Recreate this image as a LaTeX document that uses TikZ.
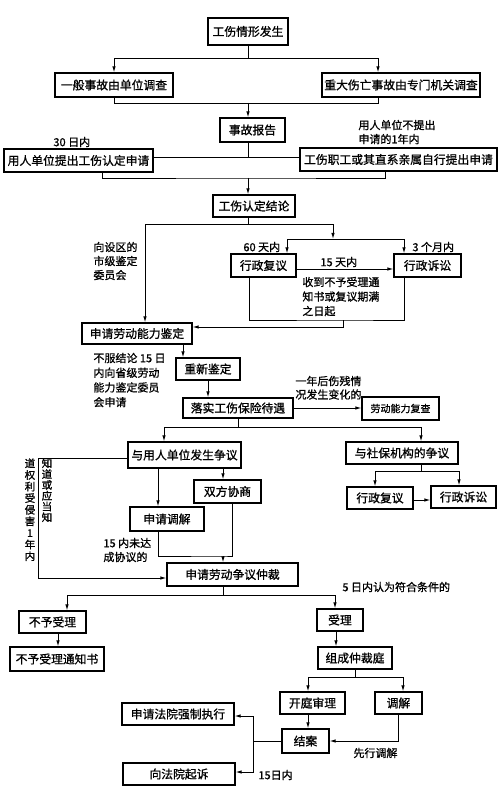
\documentclass[tikz,border=0pt]{standalone}
\usepackage{fontspec}
\setmainfont{Noto Sans CJK SC}[FakeBold=1]
\usetikzlibrary{arrows.meta}
\tikzset{
  box/.style={draw, line width=1.1pt, fill=white, inner xsep=2pt, inner ysep=0pt,
    font=\fontsize{11.8}{13}\selectfont},
  arr/.style={-{Latex[length=6pt,width=3.4pt]}},
  note/.style={inner sep=0pt, align=left, font=\fontsize{11}{14.5}\selectfont},
  vnote/.style={inner sep=0pt, align=center, anchor=north},
}
\begin{document}
\begin{tikzpicture}[x=1pt, y=-1pt, line width=0.9pt]
      \useasboundingbox (0,0) rectangle (500,791);

      % Accident and investigation
      \node[box, minimum width=80, minimum height=27] (occur) at (248,31.5) {工伤情形发生};
      \node[box, minimum width=118, minimum height=24] (general) at (114,85) {一般事故由单位调查};
      \node[box, minimum width=158, minimum height=24] (major) at (401,85) {重大伤亡事故由专门机关调查};
      \node[box, minimum width=65, minimum height=24] (report) at (252.5,130) {事故报告};

      \coordinate (s1) at (248,58);
      \draw (occur.south) -- (s1);
      \draw[arr] (s1) -| (general.north);
      \draw[arr] (s1) -| ([xshift=-23pt]major.north);
      \coordinate (s2) at (248,103);
      \draw (general.south) |- (s2);
      \draw ([xshift=-23pt]major.south) |- (s2);
      \draw[arr] (s2) -- (s2 |- report.north);

      % Application for recognition
      \node[box, minimum width=149, minimum height=23] (unitapply) at (78.5,160.5) {用人单位提出工伤认定申请};
      \node[box, minimum width=197, minimum height=23] (selfapply) at (398.5,159.5) {工伤职工或其直系亲属自行提出申请};
      \node[note, anchor=west] (L30) at (53,142) {30 日内};
      \node[note, anchor=north west, font=\fontsize{11}{14}\selectfont] (Lyear) at (358,119.5) {用人单位不提出\\申请的1年内};

      \coordinate (s3) at (248,157);
      \draw (s2 |- report.south) -- (s3);
      \draw (unitapply.east |- s3) -- (selfapply.west |- s3);

      \node[box, minimum width=82, minimum height=22] (conclusion) at (254,206) {工伤认定结论};
      \coordinate (s4) at (248,178);
      \draw ([xshift=23.5pt]unitapply.south) |- (s4) -| ([xshift=-13.5pt]selfapply.south);
      \draw[arr] (s4) -- (s4 |- conclusion.north);

      % Review and suit on the conclusion
      \node[box, minimum width=65, minimum height=23] (review1) at (263.5,265.5) {行政复议};
      \node[box, minimum width=67, minimum height=23] (suit1) at (427.5,265.5) {行政诉讼};
      \node[note, anchor=west] (L60) at (243,247) {60 天内};
      \node[note, anchor=west] (L3m) at (412,247) {3 个月内};
      \node[note, anchor=west] (L15d) at (320,262) {15 天内};
      \node[note, anchor=north west] (Lrecv) at (302,276.5) {收到不予受理通\\知书或复议期满\\之日起};
      \node[note, anchor=north west, font=\fontsize{11}{14}\selectfont] (Lcity) at (93,241.5) {向设区的\\市级鉴定\\委员会};

      \coordinate (s5) at (248,224);
      \draw (s5 |- conclusion.south) -- (s5);
      \coordinate (s6) at (333,239);
      \draw[arr] (s5) -| (s6);
      \draw[arr] (s6) -| ([xshift=23.5pt]review1.north);
      \draw[arr] (s6) -| ([xshift=-23.5pt]suit1.north);
      \draw[arr] ([yshift=-3.5pt]review1.east) -- ([yshift=-3.5pt]suit1.west);

      % Work ability appraisal
      \node[box, minimum width=110, minimum height=21] (assess) at (137,333.5) {申请劳动能力鉴定};
      \node[box, minimum width=64, minimum height=22] (reassess) at (208,369) {重新鉴定};
      \node[note, anchor=north west, font=\fontsize{11}{14.7}\selectfont] (Lprov) at (93,352.5) {不服结论 15 日\\内向省级劳动\\能力鉴定委员\\会申请};

      \draw[arr] (s5) -| ([xshift=8pt]assess.north);
      \coordinate (s7) at (343,320);
      \draw ([xshift=-14.5pt]review1.south) |- (s7) -| ([xshift=-23.5pt]suit1.south);
      \draw[arr] (s7) |- ([yshift=6.5pt]assess.east);
      \draw[arr] ([xshift=46pt]assess.south) -- ([xshift=46pt]assess.south |- reassess.north);

      % Benefits
      \node[box, minimum width=110, minimum height=20] (benefit) at (238,408) {落实工伤保险待遇};
      \node[box, minimum width=77, minimum height=23, font=\fontsize{10}{12}\selectfont] (recheck) at (400.5,408.5) {劳动能力复查};
      \node[note, anchor=north west, font=\fontsize{11}{13.5}\selectfont] (Lchange) at (295,375.5) {一年后伤残情\\况发生变化的};

      \draw[arr] (reassess.south) -- (reassess.south |- benefit.north);
      \draw[arr] (benefit.east) -- (benefit.east -| recheck.west);

      % Disputes
      \node[box, minimum width=113, minimum height=26] (empdispute) at (184.5,455) {与用人单位发生争议};
      \node[box, minimum width=112, minimum height=22] (sidispute) at (402,453) {与社保机构的争议};
      \node[box, minimum width=66, minimum height=22] (review2) at (380,498) {行政复议};
      \node[box, minimum width=65, minimum height=22] (suit2) at (463.5,497) {行政诉讼};
      \node[box, minimum width=67, minimum height=23] (negotiate) at (227.5,491.5) {双方协商};
      \node[box, minimum width=74, minimum height=24] (mediate) at (167,519) {申请调解};

      \coordinate (s8) at (238,427);
      \draw (benefit.south) -- (s8);
      \draw[arr] (s8) -| ([xshift=-20.5pt]empdispute.north);
      \draw[arr] (s8) -| ([xshift=19pt]sidispute.north);
      \coordinate (s9) at (421,471);
      \draw ([xshift=19pt]sidispute.south) -- (s9);
      \draw[arr] (s9) -| ([xshift=-5pt]review2.north);
      \draw[arr] (s9) -| ([xshift=-4.5pt]suit2.north);
      \draw[arr] ([yshift=-2pt]review2.east) -- ([yshift=-2pt]review2.east -| suit2.west);
      \draw[arr] ([xshift=-26.5pt]empdispute.south) -- ([xshift=-26.5pt]empdispute.south |- mediate.north);
      \draw[arr] ([xshift=38.5pt]empdispute.south) -- ([xshift=38.5pt]empdispute.south |- negotiate.north);

      % Arbitration
      \node[box, minimum width=131, minimum height=23] (arbitrate) at (232.5,574.5) {申请劳动争议仲裁};
      \node[note, anchor=north west, font=\fontsize{11}{14}\selectfont] (L15n) at (103,537.5) {15 内未达\\成协议的};
      \node[vnote, font=\fontsize{10.5}{11.6}\selectfont] (Lvleft) at (30,458) {道\\权\\利\\受\\侵\\害\\1\\年\\内};
      \node[vnote, font=\fontsize{10.5}{10.8}\selectfont] (Lvright) at (47,458) {知\\道\\或\\应\\当\\知};

      \coordinate (s10) at (223,556);
      \draw ([xshift=-9pt]mediate.south) |- (s10) -| ([xshift=4.5pt]negotiate.south);
      \draw[arr] (s10) -- (s10 |- arbitrate.north);
      \coordinate (s11) at (38,458);
      \draw[arr] ([yshift=-3pt]empdispute.west) -- (s11) |- ([yshift=-3.5pt]arbitrate.west);

      % Acceptance
      \node[box, minimum width=67, minimum height=22] (reject) at (52.5,622) {不予受理};
      \node[box, minimum width=94, minimum height=24] (notice) at (57,659) {不予受理通知书};
      \node[box, minimum width=46, minimum height=22] (accept) at (340,620) {受理};
      \node[box, minimum width=74, minimum height=22] (tribunal) at (355,658) {组成仲裁庭};
      \node[note, anchor=west] (L5d) at (342,587) {5 日内认为符合条件的};

      \coordinate (s12) at (223,595);
      \draw ([xshift=-9.5pt]arbitrate.south) -- (s12);
      \draw[arr] (s12) -| ([xshift=14.5pt]reject.north);
      \draw[arr] (s12) -| ([xshift=-5pt]accept.north);
      \draw[arr] ([xshift=5.5pt]reject.south) -- ([xshift=5.5pt]reject.south |- notice.north);
      \draw[arr] ([xshift=-4pt]accept.south) -- ([xshift=-4pt]accept.south |- tribunal.north);

      % Hearing and closing
      \node[box, minimum width=65, minimum height=22] (hearing) at (312.5,703) {开庭审理};
      \node[box, minimum width=47, minimum height=22] (conciliate) at (398.5,703) {调解};
      \node[box, minimum width=47, minimum height=24] (close) at (305.5,741) {结案};
      \node[box, minimum width=112, minimum height=22] (enforce) at (178,714) {申请法院强制执行};
      \node[box, minimum width=112, minimum height=22] (sue) at (179,774) {向法院起诉};
      \node[note, anchor=west] (Lfirst) at (353,753) {先行调解};
      \node[note, anchor=west] (L15in) at (258,775) {15日内};

      \coordinate (s13) at (355,677);
      \draw (tribunal.south) -- (s13);
      \draw[arr] (s13) -| ([xshift=-4.5pt]hearing.north);
      \draw[arr] (s13) -| ([xshift=4.5pt]conciliate.north);
      \draw[arr] ([xshift=-4.5pt]hearing.south) -- ([xshift=-4.5pt]hearing.south |- close.north);
      \draw[arr] (conciliate.south) |- (close.east);
      \coordinate (s14) at (253,741);
      \draw (close.west) -- (s14);
      \draw[arr] (s14) |- ([yshift=-2pt]enforce.east);
      \draw[arr] (s14) |- ([yshift=2pt]sue.east);

\end{tikzpicture}
\end{document}
